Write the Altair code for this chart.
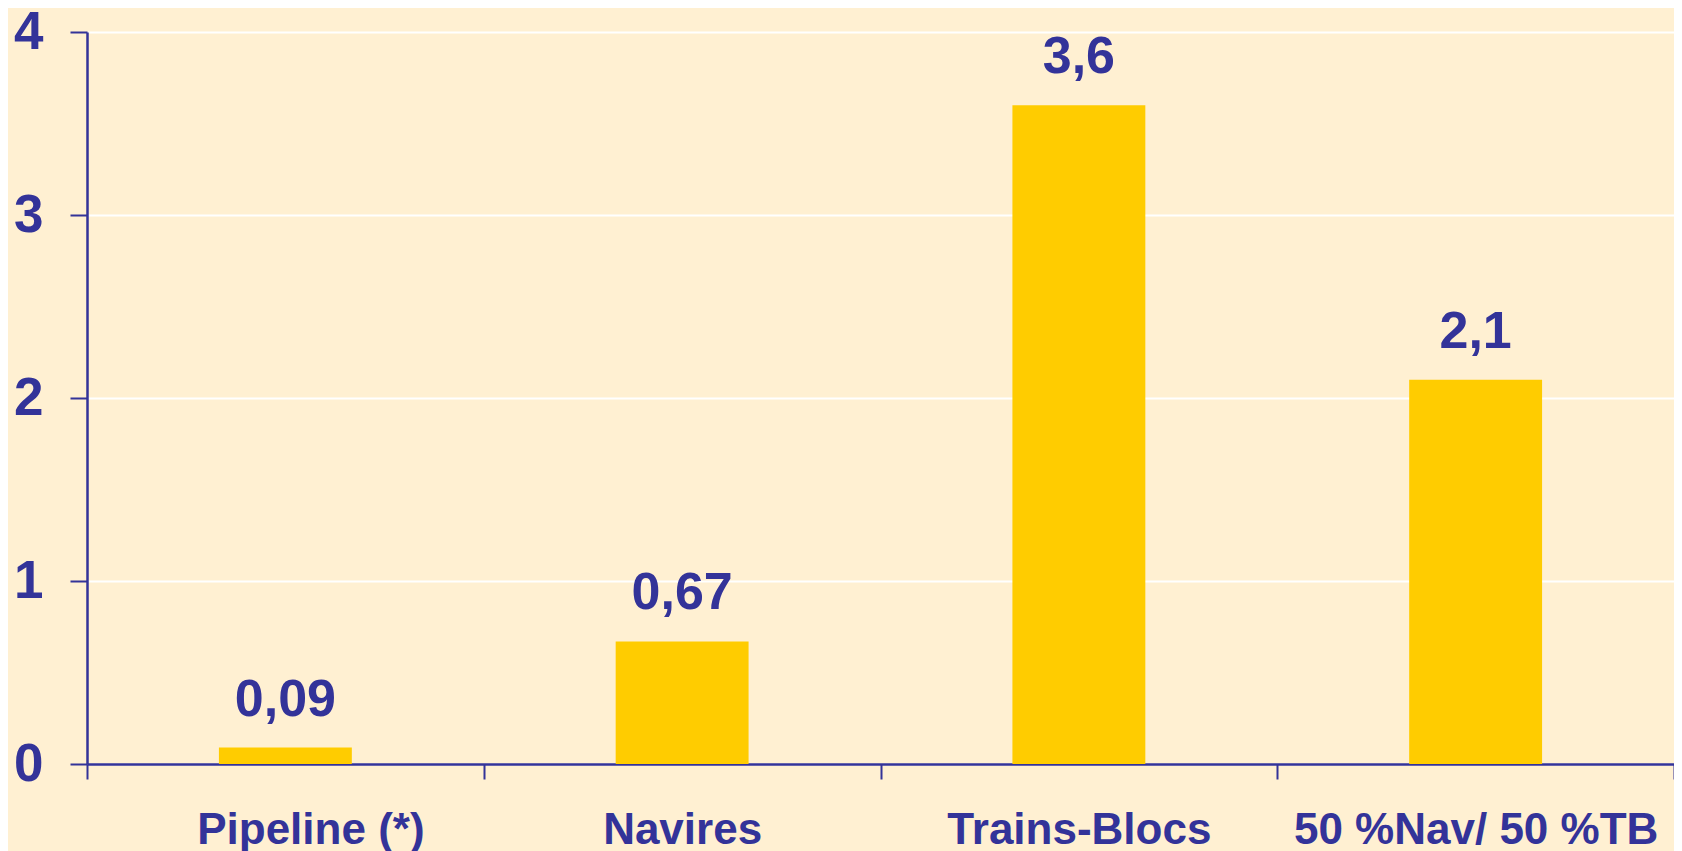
import altair as alt
import pandas as pd

categories = ["Pipeline (*)", "Navires", "Trains-Blocs", "50 %Nav/ 50 %TB"]
values = [0.09, 0.67, 3.6, 2.1]
value_labels = ["0,09", "0,67", "3,6", "2,1"]
y_ticks = [0, 1, 2, 3, 4]

df = pd.DataFrame({"cat": categories, "val": values, "lab": value_labels})

NAVY = "#333399"
BAR = "#FFCC00"
BG = "#FFF0D2"
FONT = "Liberation Sans"

x = alt.X(
    "cat:N", sort=categories, title=None,
    scale=alt.Scale(paddingInner=0, paddingOuter=0),
    axis=alt.Axis(
        labelAngle=0, labelFont=FONT, labelFontSize=44, labelFontWeight="bold",
        labelColor=NAVY, tickBand="extent", tickSize=15, tickColor=NAVY,
        tickWidth=2, domainColor=NAVY, domainWidth=2.5, labelPadding=29,
        labelBaseline="top", labelLimit=0, labelOverlap=False,
        labelOffset={"condition": {"test": "datum.value === 'Pipeline (*)'", "value": 25}, "value": 0},
    ),
)
y = alt.Y(
    "val:Q", title=None, scale=alt.Scale(domain=[0, 4], nice=False),
    axis=alt.Axis(
        values=y_ticks, format="d", labelFont=FONT, labelFontSize=53,
        labelFontWeight="bold", labelColor=NAVY, tickSize=17, tickColor=NAVY,
        tickWidth=2, domainColor=NAVY, domainWidth=2.5, labelPadding=27,
        grid=True, gridColor="white", gridWidth=2,
    ),
)

bars = alt.Chart(df).mark_bar(color=BAR, width=alt.RelativeBandSize(0.335)).encode(x=x, y=y)
texts = alt.Chart(df).mark_text(
    baseline="alphabetic", dy=-32, font=FONT, fontSize=52, fontWeight="bold", color=NAVY
).encode(x=alt.X("cat:N", sort=categories), y=alt.Y("val:Q"), text="lab:N")

chart = (bars + texts).properties(
    width=1587, height=732,
    autosize=alt.AutoSizeParams(type="none"),
    padding={"left": 79, "top": 24, "right": 0, "bottom": 87},
).configure(background=BG).configure_view(stroke=None)

chart.save("out.html", embed_options={"renderer": "svg", "actions": False})
